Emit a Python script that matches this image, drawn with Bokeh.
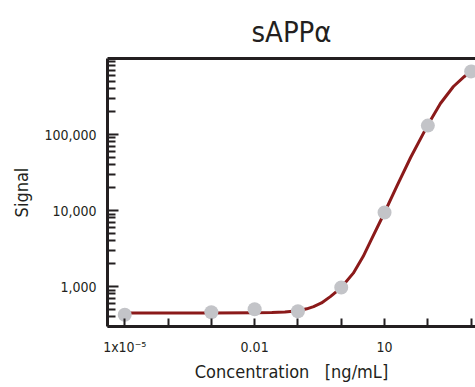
from bokeh.plotting import figure
from bokeh.models import FixedTicker, LogAxis, Range1d, CustomJSTickFormatter
from bokeh.embed import file_html
from bokeh.resources import INLINE

# measured data points
conc = [1e-5, 1e-3, 1e-2, 1e-1, 1, 10, 100, 1000]
signal = [425, 459, 502, 472, 970, 9420, 131000, 675000]

# fitted curve
fit_conc = [1e-5, 1e-3, 0.01, 0.025, 0.05, 0.1, 0.16, 0.23, 0.35, 0.56, 1.0, 1.9,
            3.2, 4.7, 10, 19.5, 40, 98, 195, 390, 700, 1000]
fit_signal = [448, 450, 452, 456, 464, 481, 509, 545, 608, 737, 970, 1500,
              2480, 3900, 9420, 21300, 49800, 131000, 256000, 428000, 580000, 675000]

# tick labels
x_ticks = [1e-5, 1e-4, 1e-3, 1e-2, 1e-1, 1, 10, 100, 1000]
x_tick_labels = ["1x10\u207b\u2075", "", "", "0.01", "", "", "10", "", ""]
y_ticks = [1e3, 1e4, 1e5]
y_tick_labels = ["1,000", "10,000", "100,000"]

FONT = "DejaVu Sans Condensed"
INK = "#231F20"

p = figure(width=475, height=387, x_axis_type="log", y_axis_type="log",
           x_range=Range1d(4e-6, 1260), y_range=Range1d(298, 1e6),
           output_backend="svg", toolbar_location=None,
           min_border_left=107, min_border_right=0, min_border_top=58, min_border_bottom=61,
           outline_line_color=None, background_fill_color="white", border_fill_color="white")
p.grid.visible = False

p.title.text = "sAPP\u03b1"
p.title.align = "center"
p.title.text_font = FONT
p.title.text_font_size = "29px"
p.title.text_font_style = "normal"
p.title.text_color = INK
p.title.standoff = 20

fmt_code = """
for (let i = 0; i < vals.length; i++) {
  if (Math.abs(Math.log10(vals[i]) - Math.log10(tick)) < 1e-6) return labs[i];
}
return "";
"""

xa = p.xaxis[0]
xa.ticker = FixedTicker(ticks=x_ticks, minor_ticks=[])
xa.formatter = CustomJSTickFormatter(args=dict(vals=x_ticks, labs=x_tick_labels), code=fmt_code)
xa.axis_label = "Concentration\u00a0\u00a0\u00a0[ng/mL]"

minor_y = [k * 10 ** d for d in range(2, 6) for k in range(2, 10)]
ya = p.yaxis[0]
ya.ticker = FixedTicker(ticks=y_ticks, minor_ticks=minor_y)
ya.formatter = CustomJSTickFormatter(args=dict(vals=y_ticks, labs=y_tick_labels), code=fmt_code)
ya.axis_label = "Signal"

for ax in (xa, ya):
    ax.axis_line_color = INK
    ax.axis_line_width = 3
    ax.major_tick_line_color = INK
    ax.minor_tick_line_color = INK
    ax.major_tick_line_width = 2
    ax.minor_tick_line_width = 2
    ax.major_tick_out = 0
    ax.minor_tick_out = 0
    ax.major_label_text_font = FONT
    ax.major_label_text_color = INK
    ax.axis_label_text_font = FONT
    ax.axis_label_text_font_style = "normal"
    ax.axis_label_text_color = INK
    ax.axis_label_text_font_size = "18px"

xa.major_tick_in = 8
xa.minor_tick_in = 0
xa.major_label_text_font_size = "14px"
xa.major_label_standoff = 12
xa.axis_label_standoff = 3

ya.major_tick_in = 11
ya.minor_tick_in = 8
ya.major_label_text_font_size = "14px"
ya.major_label_standoff = 11
ya.axis_label_standoff = 9

top = LogAxis(ticker=FixedTicker(ticks=[], minor_ticks=[]),
              major_label_text_font_size="0px", axis_line_color=INK, axis_line_width=3,
              major_tick_line_color=None, minor_tick_line_color=None,
              major_label_standoff=0)
p.add_layout(top, "above")

p.line(fit_conc, fit_signal, line_color="#8B1A1A", line_width=3, line_join="round")
p.scatter(conc, signal, size=14, fill_color="#C3C4C8", line_color=None)

open("out.html", "w").write(file_html(p, INLINE))
